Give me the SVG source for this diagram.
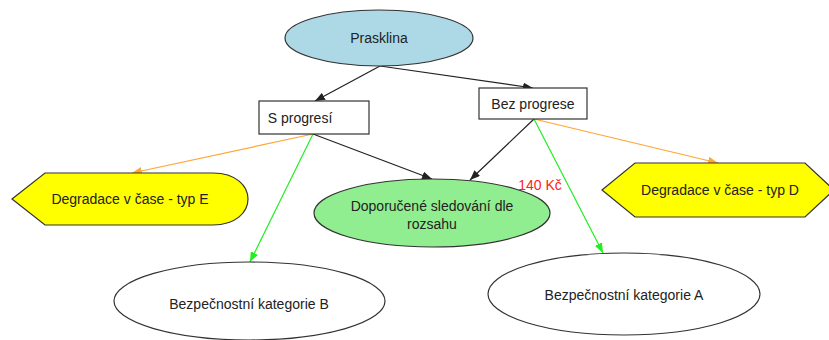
<svg xmlns="http://www.w3.org/2000/svg" width="829" height="340" viewBox="0 0 829 340">
  <style>
    .lbl { font-family: "Liberation Sans", Arial, sans-serif; font-size: 14px; fill: #222; text-anchor: middle; dominant-baseline: central; }
    .shape { stroke: #333; stroke-width: 1.2; }
    .edge { fill: none; stroke-width: 1.2; }
    .black { stroke: #222; }
    .orange { stroke: #ffa733; }
    .green { stroke: #22ee22; }
  </style>
  <defs>
    <marker id="ah-black" markerWidth="10" markerHeight="8" refX="10" refY="4" orient="auto" markerUnits="userSpaceOnUse">
      <path d="M0,0 L10,4 L0,8 z" fill="#222"/>
    </marker>
    <marker id="ah-orange" markerWidth="10" markerHeight="8" refX="10" refY="4" orient="auto" markerUnits="userSpaceOnUse">
      <path d="M0,0 L10,4 L0,8 z" fill="#ffa733"/>
    </marker>
    <marker id="ah-green" markerWidth="10" markerHeight="8" refX="10" refY="4" orient="auto" markerUnits="userSpaceOnUse">
      <path d="M0,0 L10,4 L0,8 z" fill="#22ee22"/>
    </marker>
  </defs>

  <rect width="829" height="340" fill="#fff"/>

  <g id="connectors">
    <line class="edge black" x1="380" y1="66" x2="315" y2="101" marker-end="url(#ah-black)"/>
    <line class="edge black" x1="380" y1="66" x2="533" y2="88" marker-end="url(#ah-black)"/>
    <line class="edge orange" x1="313" y1="134" x2="132" y2="173" marker-end="url(#ah-orange)"/>
    <line class="edge green" x1="313" y1="134" x2="250" y2="262" marker-end="url(#ah-green)"/>
    <line class="edge black" x1="313" y1="134" x2="432" y2="179" marker-end="url(#ah-black)"/>
    <line class="edge black" x1="534" y1="119" x2="470" y2="180" marker-end="url(#ah-black)"/>
    <line class="edge orange" x1="534" y1="119" x2="718" y2="163" marker-end="url(#ah-orange)"/>
    <line class="edge green" x1="534" y1="119" x2="603" y2="253" marker-end="url(#ah-green)"/>
  </g>

  <g id="prasklina">
    <ellipse class="shape" cx="379" cy="38" rx="94" ry="28" fill="#add8e6"/>
    <text class="lbl" x="379" y="38">Prasklina</text>
  </g>

  <g id="s-progresi">
    <rect class="shape" x="259" y="101" width="110" height="33" fill="#fff"/>
    <text class="lbl" x="300" y="118">S progresí</text>
  </g>

  <g id="bez-progrese">
    <rect class="shape" x="479" y="88" width="108" height="31" fill="#fff"/>
    <text class="lbl" x="533" y="104">Bez progrese</text>
  </g>

  <g id="degradace-e">
    <path class="shape" d="M12,199 L45,173 L213,173 C236,173 248,186 248,199 C248,212 236,225 213,225 L45,225 Z" fill="#ffff00"/>
    <text class="lbl" x="130" y="199">Degradace v čase - typ E</text>
  </g>

  <g id="doporucene">
    <ellipse class="shape" cx="432" cy="213" rx="118" ry="34" fill="#90ee90"/>
    <text class="lbl" x="432" y="206">Doporučené sledování dle</text>
    <text class="lbl" x="432" y="224">rozsahu</text>
  </g>

  <g id="cena">
    <text x="540" y="185" font-family="'Liberation Sans', Arial, sans-serif" font-size="14" fill="#ff2020" text-anchor="middle" dominant-baseline="central">140 Kč</text>
  </g>

  <g id="degradace-d">
    <path class="shape" d="M602,190 L635,163 L805,163 L834,190 L805,217 L635,217 Z" fill="#ffff00"/>
    <text class="lbl" x="720" y="190">Degradace v čase - typ D</text>
  </g>

  <g id="kategorie-b">
    <ellipse class="shape" cx="249.5" cy="301" rx="135.5" ry="39" fill="#fff"/>
    <text class="lbl" x="249" y="304">Bezpečnostní kategorie B</text>
  </g>

  <g id="kategorie-a">
    <ellipse class="shape" cx="624" cy="294" rx="136" ry="41" fill="#fff"/>
    <text class="lbl" x="624" y="295">Bezpečnostní kategorie A</text>
  </g>
</svg>
